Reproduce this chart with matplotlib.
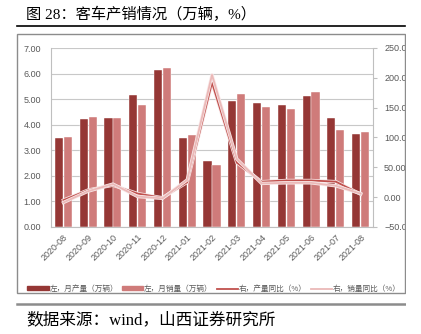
import matplotlib.pyplot as plt
import matplotlib.patheffects as pe
from matplotlib.patches import Rectangle
from matplotlib.lines import Line2D
import numpy as np

months = ['2020-08', '2020-09', '2020-10', '2020-11', '2020-12', '2021-01', '2021-02',
          '2021-03', '2021-04', '2021-05', '2021-06', '2021-07', '2021-08']
prod = [3.50, 4.22, 4.28, 5.15, 6.14, 3.47, 2.59, 4.92, 4.84, 4.79, 5.12, 4.28, 3.62]
sales = [3.52, 4.32, 4.28, 4.78, 6.21, 3.61, 2.42, 5.19, 4.70, 4.61, 5.27, 3.78, 3.72]
prod_yoy = [-5, 12, 20, 6, -1, 25, 192, 58, 26, 28, 28, 26, 5]
sales_yoy = [-9, 10, 22, 1, -2, 29, 205, 64, 23, 24, 24, 19, 6]

legend_labels = ['左，月产量（万辆）', '左，月销量（万辆）', '右，产量同比（%）', '右，销量同比（%）']

plt.rcParams['font.family'] = ['Liberation Sans', 'Noto Sans CJK SC']

W, H = 421, 334
fig = plt.figure(figsize=(W / 100, H / 100), dpi=100)

def fx(px):
    return px / W

def fy(py):
    return 1 - py / H

dark = '#953735'
light = '#CF7B7A'
line_dark = '#C0504D'
line_light = '#EBB9B8'
grey = '#595959'

ax = fig.add_axes([fx(51), fy(227), fx(373) - fx(51), fy(48) - fy(227)])
x = np.arange(len(months))
w = 0.33
ax.bar(x - 0.18, prod, w, color=dark, edgecolor='white', linewidth=0.3)
ax.bar(x + 0.18, sales, w, color=light, edgecolor='white', linewidth=0.3)
ax.set_xlim(-0.5, len(months) - 0.5)
ax.set_ylim(0, 7)
ax.set_yticks(np.arange(0, 8))
ax.yaxis.set_major_formatter('{x:.2f}')
ax.grid(axis='y', color='#C8C8C8', linewidth=0.8)
ax.set_axisbelow(True)
ax.set_xticks(x)
ax.set_xticklabels(months, rotation=45, ha='right', va='top', rotation_mode='anchor')
ax.tick_params(axis='x', length=0, pad=4, labelsize=6.5, labelcolor=grey)
ax.tick_params(axis='y', length=0, pad=7, labelsize=6.5, labelcolor=grey)
for s in ['top', 'right']:
    ax.spines[s].set_visible(False)
for s in ['left', 'bottom']:
    ax.spines[s].set_color('#BFBFBF')
    ax.spines[s].set_linewidth(0.8)

ax2 = ax.twinx()
halo = [pe.Stroke(linewidth=2.4, foreground='#F8E8E8'), pe.Normal()]
ax2.plot(x, prod_yoy, color=line_dark, linewidth=1.3, path_effects=halo)
ax2.plot(x, sales_yoy, color=line_light, linewidth=1.3, path_effects=halo)
ax2.set_ylim(-50, 250)
ax2.set_yticks(np.arange(-50, 251, 50))
ax2.yaxis.set_major_formatter('{x:.2f}')
ax2.tick_params(axis='y', length=3, width=0.8, color='#BFBFBF', pad=5, labelsize=6.5, labelcolor=grey)
for s in ['top', 'left', 'bottom']:
    ax2.spines[s].set_visible(False)
ax2.spines['right'].set_color('#BFBFBF')
ax2.spines['right'].set_linewidth(0.8)

handles = [Rectangle((0, 0), 1, 1, color=dark), Rectangle((0, 0), 1, 1, color=light),
           Line2D([], [], color=line_dark, linewidth=1.3), Line2D([], [], color=line_light, linewidth=1.3)]
fig.legend(handles, legend_labels, loc='center', bbox_to_anchor=(fx(214), fy(289)), ncol=4,
           frameon=False, prop={'family': ['Noto Sans CJK SC'], 'size': 5.5}, labelcolor=grey,
           handlelength=2.8, handleheight=0.5, handletextpad=0.1, columnspacing=0.5)

# outer frame, rules and covering strip on the right
fig.patches.append(Rectangle((fx(17), fy(293)), fx(405) - fx(17), fy(34) - fy(293),
                             transform=fig.transFigure, fill=False, edgecolor='#8C8C8C', linewidth=1))
fig.patches.append(Rectangle((fx(406), 0), 1, 1, transform=fig.transFigure,
                             facecolor='white', edgecolor='none', zorder=10))
fig.lines.append(Line2D([fx(17), fx(405)], [fy(26), fy(26)], transform=fig.transFigure,
                        color='black', linewidth=1.2))
fig.lines.append(Line2D([fx(17), fx(405)], [fy(304), fy(304)], transform=fig.transFigure,
                        color='#8C8C8C', linewidth=1.8))

fig.text(fx(26), fy(14), '图 28：客车产销情况（万辆，%）', fontsize=11, va='center',
         family=['Liberation Serif', 'Noto Sans CJK SC'])
fig.text(fx(26), fy(320), '数据来源：wind，山西证券研究所', fontsize=12, va='center',
         family=['Liberation Serif', 'Noto Sans CJK SC'])

fig.savefig('out.png', dpi=100)
